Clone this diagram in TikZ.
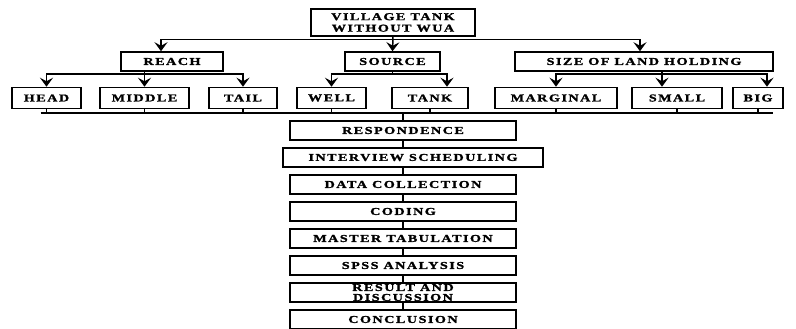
\documentclass[tikz,border=0pt]{standalone}
\usepackage{fontspec}
\newfontfamily\boxfont{Liberation Serif}[FakeStretch=1.35, LetterSpace=14, FakeBold=1.5]
\usetikzlibrary{arrows.meta, calc}

\begin{document}
\begin{tikzpicture}[
    x=1pt, y=-1pt,
    >={Stealth[length=9pt, width=13pt, inset=3.5pt]},
    box/.style={draw, line width=1.5pt, inner sep=0pt, align=center,
        font=\boxfont\bfseries\fontsize{10.5}{10}\selectfont},
    link/.style={line width=1.5pt},
]
\useasboundingbox (0,0) rectangle (796,329);
% study area
\node[box, minimum width=164, minimum height=27,
    font=\boxfont\bfseries\fontsize{10.5}{11.5}\selectfont] (village) at (393,22.5) {VILLAGE TANK\\WITHOUT WUA};
% three criteria
\node[box, minimum width=102, minimum height=19] (reach) at (172,61.5) {REACH};
\node[box, minimum width=95, minimum height=19] (source) at (392.5,61.5) {SOURCE};
\node[box, minimum width=258, minimum height=19] (land) at (644,61.5) {SIZE OF LAND HOLDING};
% categories
\node[box, minimum width=69, minimum height=21] (head) at (46.5,98) {HEAD};
\node[box, minimum width=89, minimum height=21] (middle) at (144.5,98) {MIDDLE};
\node[box, minimum width=68, minimum height=21] (tail) at (243,98) {TAIL};
\node[box, minimum width=69, minimum height=21] (well) at (331.5,98) {WELL};
\node[box, minimum width=76, minimum height=21] (tank) at (430,98) {TANK};
\node[box, minimum width=122, minimum height=21] (marginal) at (556,98) {MARGINAL};
\node[box, minimum width=90, minimum height=21] (small) at (677,98) {SMALL};
\node[box, minimum width=50, minimum height=21] (big) at (758,98) {BIG};
% steps of the study
\node[box, minimum width=226, minimum height=19] (resp) at (403,130.5) {RESPONDENCE};
\node[box, minimum width=260, minimum height=19] (interview) at (413,157.5) {INTERVIEW SCHEDULING};
\node[box, minimum width=226, minimum height=19] (data) at (403,184.5) {DATA COLLECTION};
\node[box, minimum width=226, minimum height=19] (coding) at (403,211.5) {CODING};
\node[box, minimum width=226, minimum height=19] (master) at (403,238.5) {MASTER TABULATION};
\node[box, minimum width=226, minimum height=19] (spss) at (403,265.5) {SPSS ANALYSIS};
\node[box, minimum width=226, minimum height=19] (result) at (403,292.5) {RESULT AND\\DISCUSSION};
\node[box, minimum width=226, minimum height=19] (concl) at (403,319.5) {CONCLUSION};

% village -> criteria
\coordinate (topbar) at (0,39.5);
\draw[link, ->] (village.south) -- (source.north);
\draw[link, ->] (village.south |- topbar) -| ([xshift=-11pt]reach.north);
\draw[link, ->] (village.south |- topbar) -| ([xshift=-4pt]land.north);
% criteria -> categories
\coordinate (midbar) at (0,74);
\coordinate (tankin) at ([xshift=17pt]tank.north);
\coordinate (smallin) at ([xshift=-15pt]small.north);
\draw[link, ->] (reach.south -| middle.north) -- (middle.north);
\draw[link, ->] (middle.north |- midbar) -| (head.north);
\draw[link, ->] (middle.north |- midbar) -| (tail.north);
\draw[link] (source.south) -- (source.south |- midbar);
\draw[link, ->] (source.south |- midbar) -| (well.north);
\draw[link, ->] (source.south |- midbar) -| (tankin);
\draw[link, ->] (land.south -| smallin) -- (smallin);
\draw[link, ->] (smallin |- midbar) -| (marginal.north);
\draw[link, ->] (smallin |- midbar) -| ([xshift=9pt]big.north);
% categories -> respondence
\path (head.south) ++(-6,4) coordinate (lowl);
\path (big.south) ++(15,4) coordinate (lowr);
\draw[link] (lowl) -- (lowr);
\foreach \n in {head,middle,tail,well,tank,marginal,small,big}
    \draw[link] (\n.south) -- (\n.south |- lowl);
\draw[link] (lowl -| resp.north) -- (resp.north);
% chain of steps
\foreach \a/\b in {resp/interview, interview/data, data/coding, coding/master,
    master/spss, spss/result, result/concl}
    \draw[link] (\a.south -| resp.south) -- (\b.north -| resp.south);
\end{tikzpicture}
\end{document}
